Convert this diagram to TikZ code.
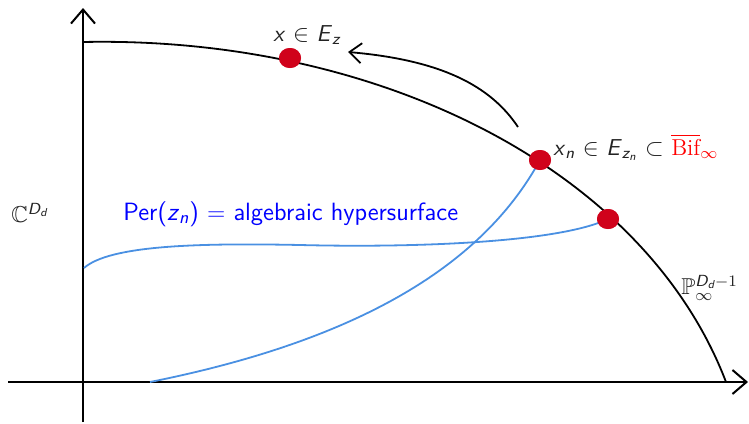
\documentclass[tikz,border=0pt]{standalone}
\usepackage{amsmath,amssymb}
\usetikzlibrary{arrows.meta,shapes.geometric}
\definecolor{dotred}{HTML}{D0021B}
\definecolor{curveblue}{HTML}{4A90E2}
\definecolor{txtgrey}{HTML}{222222}
\newcommand{\mi}[1]{\textsf{\slshape #1}}
\tikzset{
  axis/.style={line width=1pt,-{Straight Barb[length=7pt,width=12pt,line width=1pt]}},
  bcurve/.style={line width=0.9pt,black},
  blcurve/.style={line width=0.9pt,curveblue},
  rdot/.style={ellipse,fill=dotred,inner sep=0pt,minimum width=11pt,minimum height=10pt},
  lbl/.style={inner sep=1pt,text=txtgrey,font=\sffamily\fontsize{11.5}{13}\selectfont},
}
\begin{document}
\begin{tikzpicture}[x=0.5pt,y=-0.5pt]
\useasboundingbox (0,0) rectangle (749,423);
% axes
\coordinate (xs) at (8,382);
\coordinate (xe) at (748,382);
\coordinate (ys) at (83,422);
\coordinate (ye) at (83,8);
\draw[axis] (xs) -- (xe);
\draw[axis] (ys) -- (ye);
% points
\coordinate (cs) at (83,42);
\coordinate (ce) at (726,382);
\node[rdot] (p1) at (290,58) {};
\node[rdot] (p2) at (540,160) {};
\node[rdot] (p3) at (608,219) {};
% blue curves
\coordinate (b1s) at (150,382);
\coordinate (b2s) at (84,268);
\draw[blcurve] (b1s) .. controls (350,342) and (480,270) .. (p2.center);
\draw[blcurve] (b2s) .. controls (110,245) and (200,243) .. (300,245) .. controls (420,248) and (560,242) .. (p3.center);
% black curve
\draw[bcurve] (cs) .. controls (380,36) and (645,170) .. (ce);
\node[rdot] at (p1) {};
\node[rdot] at (p2) {};
\node[rdot] at (p3) {};
% curved arrow
\coordinate (as) at (518,127);
\coordinate (ae) at (348,52);
\draw[line width=0.9pt,-{Straight Barb[length=6pt,width=10pt,line width=0.9pt]}] (as) .. controls (490,85) and (440,60) .. (ae);
% labels
\node[lbl,anchor=base] (l1) at (307,41) {\mi{x} $\in$ \mi{E}$_{\mi{z}}$};
\node[lbl,anchor=base west] (l2) at (551,155) {\mi{x}$_{\mi{n}}$ $\in$ \mi{E}$_{\mi{z}_{\mi{n}}}$ $\subset$ $\textcolor{red}{\overline{\textrm{Bif}}_\infty}$};
\node[lbl] (l3) at (30,213) {$\mathbb{C}^{\mi{D}_{\mi{d}}}$};
\node[lbl,text=blue,anchor=base west,font=\sffamily\fontsize{12.5}{14}\selectfont] (l4) at (121,220) {Per(\mi{z}$_{\mi{n}}$) $=$ algebraic hypersurface};
\node[lbl,anchor=west] (l5) at (679,288) {$\mathbb{P}_\infty^{\mi{D}_{\mi{d}}-1}$};
\end{tikzpicture}
\end{document}
